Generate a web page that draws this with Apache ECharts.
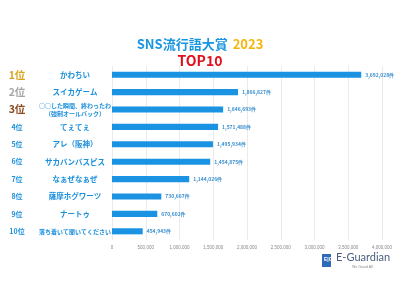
<!DOCTYPE html>
<html>
<head>
<meta charset="utf-8">
<script src="https://cdn.jsdelivr.net/npm/echarts@6/dist/echarts.min.js"></script>
<style>
  html, body { margin: 0; padding: 0; background: #fff; }
  #chart { width: 400px; height: 300px; }
</style>
</head>
<body>
<div id="chart"></div>
<script>
const ranks = ['1位', '2位', '3位', '4位', '5位', '6位', '7位', '8位', '9位', '10位']
const words = [
  'かわちい',
  'スイカゲーム',
  '○○した瞬間、終わったわ\n（強制オールバック）',
  'てぇてぇ',
  'アレ（阪神）',
  'サカバンバスピス',
  'なぁぜなぁぜ',
  '薩摩ホグワーツ',
  'ナートゥ',
  '落ち着いて聞いてください'
]
const counts = [3692028, 1866827, 1646693, 1571488, 1495934, 1454875, 1144026, 730667, 670602, 454943]

const fontJP = '"Noto Sans CJK JP", sans-serif'
const blue = '#1a8fdc'

const chart = echarts.init(document.getElementById('chart'))
chart.setOption({
  animation: false,
  title: {
    left: 'center',
    top: 30,
    text: '{a|SNS流行語大賞} {b|2023}\n{c|TOP10}',
    textStyle: {
      rich: {
        a: { fontFamily: fontJP, fontWeight: 'bold', fontSize: 13, color: '#1a96e0', lineHeight: 15 },
        b: { fontFamily: fontJP, fontWeight: 'bold', fontSize: 13, color: '#f5b50f', lineHeight: 15 },
        c: { fontFamily: fontJP, fontWeight: 'bold', fontSize: 14, color: '#e0101e', lineHeight: 15 }
      }
    }
  },
  grid: { left: 112, right: 18, top: 66, bottom: 60 },
  xAxis: {
    type: 'value',
    min: 0,
    max: 4000000,
    interval: 500000,
    axisLine: { show: false },
    axisTick: { show: false },
    splitLine: { lineStyle: { color: '#ebebeb', width: 1 } },
    axisLabel: {
      fontSize: 4.5,
      color: '#888',
      margin: 5,
      formatter: v => v.toLocaleString('en-US')
    }
  },
  yAxis: [{
    type: 'category',
    inverse: true,
    data: ranks,
    axisLine: { show: false },
    axisTick: { show: false },
    axisLabel: {
      align: 'center',
      margin: 95,
      formatter: (v, i) => i === 0 ? '{g|' + v + '}' : i === 1 ? '{s|' + v + '}' : i === 2 ? '{r|' + v + '}' : '{n|' + v + '}',
      rich: {
        g: { fontFamily: fontJP, fontWeight: 'bold', fontSize: 10.5, color: '#d9a521' },
        s: { fontFamily: fontJP, fontWeight: 'bold', fontSize: 10.5, color: '#a6a6a6' },
        r: { fontFamily: fontJP, fontWeight: 'bold', fontSize: 10.5, color: '#8a4a1e' },
        n: { fontFamily: fontJP, fontWeight: 'bold', fontSize: 7, color: blue }
      }
    }
  }, {
    type: 'category',
    inverse: true,
    position: 'left',
    data: words,
    axisLine: { show: false },
    axisTick: { show: false },
    axisLabel: {
      align: 'center',
      margin: 37,
      formatter: (v, i) => i === 2 ? '{m|' + v + '}' : i === 9 ? '{l|' + v + '}' : '{w|' + v + '}',
      rich: {
        w: { fontFamily: fontJP, fontWeight: 'bold', fontSize: 7.5, color: blue },
        l: { fontFamily: fontJP, fontWeight: 'bold', fontSize: 6, color: blue },
        m: { fontFamily: fontJP, fontWeight: 'bold', fontSize: 6, color: blue, lineHeight: 8 }
      }
    }
  }],
  series: [{
    type: 'bar',
    yAxisIndex: 0,
    data: counts,
    barWidth: '35%',
    itemStyle: { color: '#1b93e3' },
    label: {
      show: true,
      position: 'right',
      distance: 4,
      fontFamily: fontJP,
      fontSize: 5,
      fontWeight: 'bold',
      color: '#3a8fcf',
      formatter: p => p.value.toLocaleString('en-US') + '件'
    }
  }],
  graphic: [
    { type: 'rect', left: 322, top: 254, shape: { width: 9, height: 13 }, style: { fill: '#2e6bb8' } },
    { type: 'text', left: 324, top: 257, style: { text: 'E|G', fontSize: 5, fontWeight: 'bold', fill: '#fff' } },
    { type: 'text', left: 336, top: 252, style: { text: 'E-Guardian', fontFamily: 'Lato, sans-serif', fontSize: 11, fill: '#4a5f80' } },
    { type: 'text', left: 352, top: 265, style: { text: 'We Guard All', fontSize: 3.5, fill: '#8a8a8a' } }
  ]
})
</script>
</body>
</html>
